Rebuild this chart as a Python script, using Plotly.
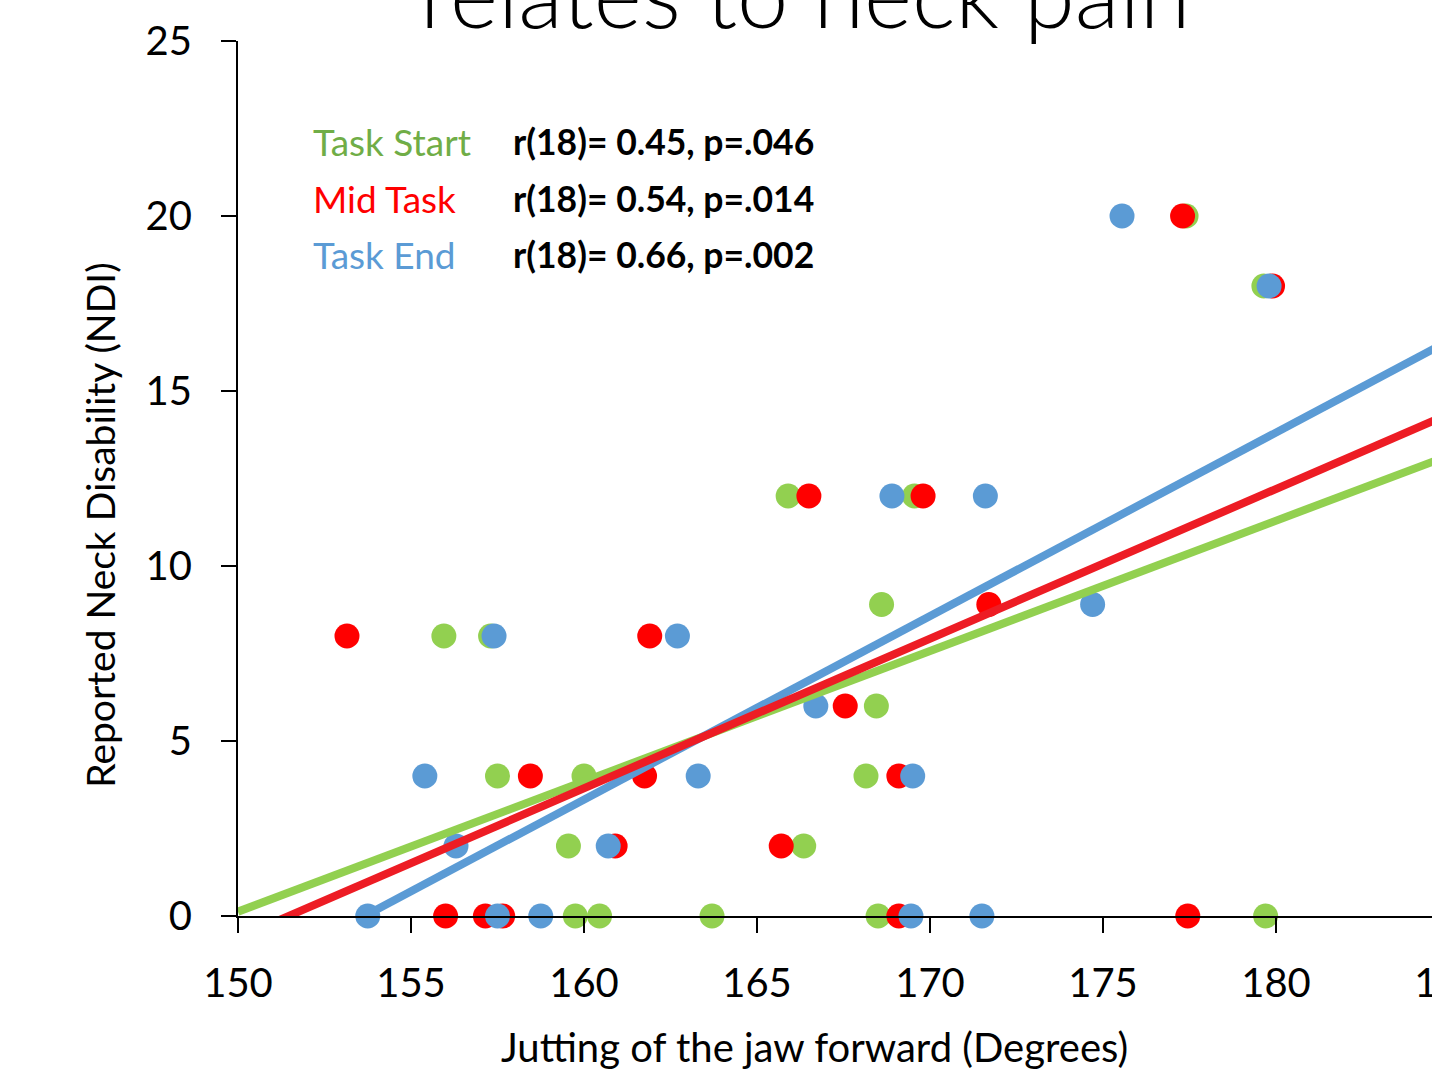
import numpy as np
import plotly.graph_objects as go

# Jaw protrusion angle (degrees) and reported Neck Disability Index per participant
start_x = [177.4, 179.65, 165.9, 169.55, 168.6, 155.95, 157.3, 168.45, 157.5, 160.0,
           168.15, 159.55, 166.35, 159.75, 160.45, 163.7, 168.5, 179.7]
start_y = [20, 18, 12, 12, 8.9, 8, 8, 6, 4, 4, 4, 2, 2, 0, 0, 0, 0, 0]

mid_x = [177.3, 179.9, 166.5, 169.8, 171.7, 153.15, 161.9, 167.55, 158.45, 161.75,
         169.1, 160.9, 165.7, 156.0, 157.15, 157.65, 169.1, 177.45]
mid_y = [20, 18, 12, 12, 8.9, 8, 8, 6, 4, 4, 4, 2, 2, 0, 0, 0, 0, 0]

end_x = [175.55, 179.8, 168.9, 171.6, 174.7, 157.4, 162.7, 166.7, 155.4, 163.3,
         169.5, 156.3, 160.7, 153.75, 157.5, 158.75, 169.45, 171.5]
end_y = [20, 18, 12, 12, 8.9, 8, 8, 6, 4, 4, 4, 2, 2, 0, 0, 0, 0, 0]

series_names = ["Task Start", "Mid Task", "Task End"]
stats_labels = ["r(18)= 0.45, p=.046", "r(18)= 0.54, p=.014", "r(18)= 0.66, p=.002"]

marker_colors = ["#92D050", "#FF0000", "#5B9BD5"]
trend_colors = ["#92D050", "#ED1C24", "#5B9BD5"]
text_colors = ["#70AD47", "#FF0000", "#5B9BD5"]

FONT = "Lato"
fig = go.Figure()

data = [(start_x, start_y), (mid_x, mid_y), (end_x, end_y)]

for (xs, ys), name, col in zip(data, series_names, marker_colors):
    fig.add_trace(go.Scatter(
        x=xs, y=ys, mode="markers", name=name,
        marker=dict(size=25, color=col, line=dict(width=0)),
        cliponaxis=False, hoverinfo="skip",
    ))

# least-squares trend lines, extended across the axis and clipped to the plot area
x_span = np.array([150.0, 185.0])
for idx in [0, 2, 1]:
    xs, ys = data[idx]
    slope, intercept = np.polyfit(xs, ys, 1)
    fig.add_trace(go.Scatter(
        x=x_span, y=slope * x_span + intercept, mode="lines",
        line=dict(color=trend_colors[idx], width=8),
        hoverinfo="skip",
    ))

# legend-style labels with correlation statistics
for i, (name, stat) in enumerate(zip(series_names, stats_labels)):
    yp = 0.885 - i * 0.0645
    fig.add_annotation(
        x=0.0603, y=yp, xref="paper", yref="paper", xanchor="left", yanchor="middle",
        text=name, showarrow=False,
        font=dict(family=FONT, size=37, color=text_colors[i]),
    )
    fig.add_annotation(
        x=0.2258, y=yp, xref="paper", yref="paper", xanchor="left", yanchor="middle",
        text="<b>" + stat + "</b>", showarrow=False,
        font=dict(family=FONT, size=35.5, color="black"),
    )

# slide heading, running off the top of the canvas
fig.add_annotation(
    text="relates to neck pain", x=0.468, y=1.0, xref="paper", yref="paper",
    xanchor="center", yanchor="middle", yshift=49, showarrow=False,
    font=dict(family=FONT, size=92, color="black", weight=300),
)

# axis titles
fig.add_annotation(
    text="Jutting of the jaw forward (Degrees)", x=0.476, y=0, xref="paper", yref="paper",
    xanchor="center", yanchor="middle", yshift=-131, showarrow=False,
    font=dict(family=FONT, size=40, color="black"),
)
fig.add_annotation(
    text="Reported Neck Disability (NDI)", x=0, y=0.446, xref="paper", yref="paper",
    xanchor="center", yanchor="middle", xshift=-138, textangle=-90, showarrow=False,
    font=dict(family=FONT, size=39, color="black"),
)

axis_common = dict(
    showline=True, linecolor="black", linewidth=2,
    ticks="outside", ticklen=15, tickwidth=2, tickcolor="black",
    showgrid=False, zeroline=False, automargin=False,
    tickfont=dict(family=FONT, size=40, color="black"),
)

fig.update_layout(
    width=1470, height=1076,
    margin=dict(l=238, r=21, t=41, b=160, autoexpand=False),
    paper_bgcolor="white", plot_bgcolor="white",
    showlegend=False,
    xaxis=dict(
        range=[150, 185], dtick=5, tick0=150,
        ticklabelstandoff=16, ticklabeloverflow="allow",
        **axis_common,
    ),
    yaxis=dict(
        range=[0, 25], dtick=5, tick0=0,
        ticklabelstandoff=21,
        **axis_common,
    ),
)

fig.write_html(
    "out.html",
    post_script="document.documentElement.style.overflow='hidden';"
                "document.body.style.overflow='hidden';document.body.style.margin='0';",
)
